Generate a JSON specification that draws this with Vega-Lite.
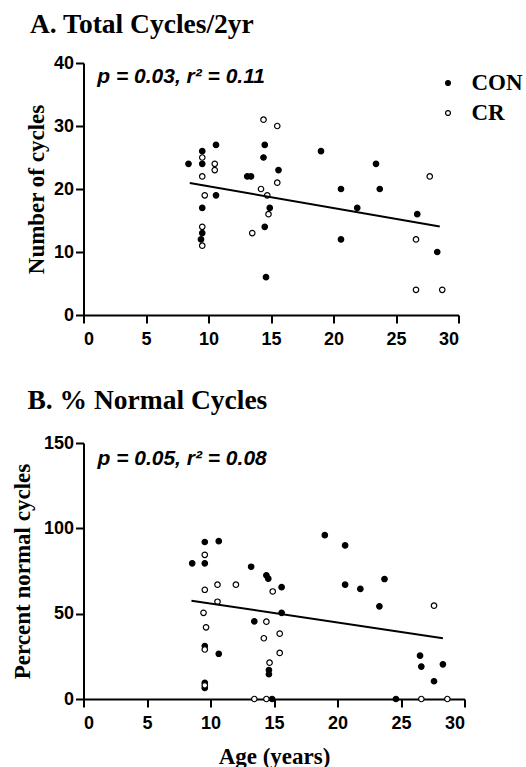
{
  "$schema": "https://vega.github.io/schema/vega-lite/v6.json",
  "background": "white",
  "padding": {"left": 10.5, "top": 10, "right": 0, "bottom": 0},
  "config": {
    "view": {"stroke": null},
    "axis": {
      "grid": false,
      "domainColor": "black",
      "domainWidth": 2,
      "tickColor": "black",
      "tickWidth": 2,
      "tickSize": 8,
      "labelFont": "Liberation Sans",
      "labelFontWeight": "bold",
      "labelFontSize": 18,
      "labelColor": "black",
      "titleFont": "Liberation Serif",
      "titleFontWeight": "bold",
      "titleFontSize": 23,
      "titleColor": "black"
    },
    "axisX": {"labelPadding": 7},
    "axisY": {"labelPadding": 2},
    "title": {"font": "Liberation Serif", "fontWeight": "bold", "fontSize": 27.5, "anchor": "start", "color": "black"},
    "concat": {"spacing": 38}
  },
  "datasets": {
    "a": [
      {"age": 8.4, "cycles": 24, "group": "CON"},
      {"age": 9.5, "cycles": 26, "group": "CON"},
      {"age": 9.5, "cycles": 24, "group": "CON"},
      {"age": 9.5, "cycles": 17, "group": "CON"},
      {"age": 9.5, "cycles": 13, "group": "CON"},
      {"age": 9.4, "cycles": 12, "group": "CON"},
      {"age": 10.6, "cycles": 27, "group": "CON"},
      {"age": 10.6, "cycles": 19, "group": "CON"},
      {"age": 13.1, "cycles": 22, "group": "CON"},
      {"age": 13.4, "cycles": 22, "group": "CON"},
      {"age": 14.5, "cycles": 27, "group": "CON"},
      {"age": 14.4, "cycles": 25, "group": "CON"},
      {"age": 14.9, "cycles": 17, "group": "CON"},
      {"age": 14.5, "cycles": 14, "group": "CON"},
      {"age": 14.6, "cycles": 6, "group": "CON"},
      {"age": 15.6, "cycles": 23, "group": "CON"},
      {"age": 19.0, "cycles": 26, "group": "CON"},
      {"age": 20.6, "cycles": 20, "group": "CON"},
      {"age": 20.6, "cycles": 12, "group": "CON"},
      {"age": 21.9, "cycles": 17, "group": "CON"},
      {"age": 23.4, "cycles": 24, "group": "CON"},
      {"age": 23.7, "cycles": 20, "group": "CON"},
      {"age": 26.7, "cycles": 16, "group": "CON"},
      {"age": 28.3, "cycles": 10, "group": "CON"},
      {"age": 9.5, "cycles": 25, "group": "CR"},
      {"age": 9.5, "cycles": 22, "group": "CR"},
      {"age": 9.7, "cycles": 19, "group": "CR"},
      {"age": 9.5, "cycles": 14, "group": "CR"},
      {"age": 9.5, "cycles": 11, "group": "CR"},
      {"age": 10.5, "cycles": 24, "group": "CR"},
      {"age": 10.5, "cycles": 23, "group": "CR"},
      {"age": 13.5, "cycles": 13, "group": "CR"},
      {"age": 14.4, "cycles": 31, "group": "CR"},
      {"age": 14.2, "cycles": 20, "group": "CR"},
      {"age": 14.7, "cycles": 19, "group": "CR"},
      {"age": 14.8, "cycles": 16, "group": "CR"},
      {"age": 15.5, "cycles": 30, "group": "CR"},
      {"age": 15.5, "cycles": 21, "group": "CR"},
      {"age": 27.7, "cycles": 22, "group": "CR"},
      {"age": 26.6, "cycles": 12, "group": "CR"},
      {"age": 26.6, "cycles": 4, "group": "CR"},
      {"age": 28.7, "cycles": 4, "group": "CR"}
    ],
    "lineA": [
      {"age": 8.5, "cycles": 20.95},
      {"age": 28.5, "cycles": 14.05}
    ],
    "b": [
      {"age": 9.55, "pct": 92, "group": "CON"},
      {"age": 10.65, "pct": 92.5, "group": "CON"},
      {"age": 8.56, "pct": 79.5, "group": "CON"},
      {"age": 9.55, "pct": 79.5, "group": "CON"},
      {"age": 9.55, "pct": 31, "group": "CON"},
      {"age": 10.65, "pct": 26.5, "group": "CON"},
      {"age": 9.55, "pct": 9.5, "group": "CON"},
      {"age": 9.55, "pct": 6.5, "group": "CON"},
      {"age": 13.2, "pct": 77.5, "group": "CON"},
      {"age": 14.4, "pct": 72.5, "group": "CON"},
      {"age": 14.55, "pct": 70.5, "group": "CON"},
      {"age": 15.6, "pct": 65.5, "group": "CON"},
      {"age": 15.6, "pct": 50.5, "group": "CON"},
      {"age": 13.45, "pct": 45.5, "group": "CON"},
      {"age": 14.6, "pct": 17, "group": "CON"},
      {"age": 14.6, "pct": 14.5, "group": "CON"},
      {"age": 14.85, "pct": 0, "group": "CON"},
      {"age": 19.0, "pct": 96, "group": "CON"},
      {"age": 20.6, "pct": 90, "group": "CON"},
      {"age": 20.6, "pct": 67, "group": "CON"},
      {"age": 21.8, "pct": 64.5, "group": "CON"},
      {"age": 23.7, "pct": 70.3, "group": "CON"},
      {"age": 23.3, "pct": 54.3, "group": "CON"},
      {"age": 26.5, "pct": 25.4, "group": "CON"},
      {"age": 26.6, "pct": 19, "group": "CON"},
      {"age": 28.3, "pct": 20.3, "group": "CON"},
      {"age": 27.6, "pct": 10.4, "group": "CON"},
      {"age": 24.6, "pct": 0, "group": "CON"},
      {"age": 9.55, "pct": 84.5, "group": "CR"},
      {"age": 9.55, "pct": 64, "group": "CR"},
      {"age": 10.55, "pct": 67, "group": "CR"},
      {"age": 12.0, "pct": 67, "group": "CR"},
      {"age": 10.55, "pct": 57, "group": "CR"},
      {"age": 9.45, "pct": 50.5, "group": "CR"},
      {"age": 9.65, "pct": 42, "group": "CR"},
      {"age": 9.55, "pct": 29, "group": "CR"},
      {"age": 9.55, "pct": 8, "group": "CR"},
      {"age": 14.9, "pct": 63, "group": "CR"},
      {"age": 14.4, "pct": 45.3, "group": "CR"},
      {"age": 14.2, "pct": 35.6, "group": "CR"},
      {"age": 15.45, "pct": 38.3, "group": "CR"},
      {"age": 15.45, "pct": 27, "group": "CR"},
      {"age": 14.65, "pct": 21.3, "group": "CR"},
      {"age": 13.45, "pct": 0, "group": "CR"},
      {"age": 14.4, "pct": 0, "group": "CR"},
      {"age": 27.6, "pct": 54.7, "group": "CR"},
      {"age": 26.6, "pct": 0, "group": "CR"},
      {"age": 28.65, "pct": 0, "group": "CR"}
    ],
    "lineB": [
      {"age": 8.5, "pct": 57.6},
      {"age": 28.3, "pct": 35.6}
    ]
  },
  "vconcat": [
    {
      "width": 375,
      "height": 252,
      "title": {"text": "A. Total Cycles/2yr", "frame": "group", "dx": -53.5, "offset": 16},
      "layer": [
        {
          "data": {"name": "a"},
          "mark": {"type": "point", "shape": "circle", "filled": true, "size": 30, "stroke": "black", "strokeWidth": 1.2, "opacity": 1},
          "encoding": {
            "x": {"field": "age", "type": "quantitative", "scale": {"domain": [0, 30], "nice": false}, "axis": {"values": [0, 5, 10, 15, 20, 25, 30], "title": null}},
            "y": {"field": "cycles", "type": "quantitative", "scale": {"domain": [0, 40], "nice": false}, "axis": {"values": [0, 10, 20, 30, 40], "title": "Number of cycles", "titlePadding": 5}},
            "fill": {
              "field": "group", "type": "nominal",
              "scale": {"domain": ["CON", "CR"], "range": ["black", "white"]},
              "legend": {
                "orient": "none", "legendX": 353, "legendY": 8.5, "title": null, "padding": 0,
                "labelFont": "Liberation Serif", "labelFontWeight": "bold", "labelFontSize": 23, "labelColor": "black",
                "symbolType": "circle", "symbolSize": 24, "symbolStrokeColor": "black", "symbolStrokeWidth": 1.2,
                "rowPadding": 6, "labelOffset": 12
              }
            }
          }
        },
        {
          "data": {"name": "lineA"},
          "mark": {"type": "line", "color": "black", "strokeWidth": 2},
          "encoding": {
            "x": {"field": "age", "type": "quantitative"},
            "y": {"field": "cycles", "type": "quantitative"}
          }
        },
        {
          "data": {"values": [{}]},
          "mark": {"type": "text", "text": "p = 0.03, r² = 0.11", "font": "Liberation Sans", "fontStyle": "italic", "fontWeight": "bold", "fontSize": 21, "align": "left", "baseline": "alphabetic", "color": "black"},
          "encoding": {
            "x": {"datum": 1.1},
            "y": {"datum": 36.8}
          }
        }
      ]
    },
    {
      "width": 381,
      "height": 256,
      "title": {"text": "B. % Normal Cycles", "frame": "group", "dx": -56, "offset": 20},
      "layer": [
        {
          "data": {"name": "b"},
          "mark": {"type": "point", "shape": "circle", "filled": true, "size": 30, "stroke": "black", "strokeWidth": 1.2, "opacity": 1},
          "encoding": {
            "x": {"field": "age", "type": "quantitative", "scale": {"domain": [0, 30], "nice": false}, "axis": {"values": [0, 5, 10, 15, 20, 25, 30], "title": "Age (years)", "titlePadding": 13}},
            "y": {"field": "pct", "type": "quantitative", "scale": {"domain": [0, 150], "nice": false}, "axis": {"values": [0, 50, 100, 150], "title": "Percent normal cycles", "titlePadding": 9}},
            "fill": {
              "field": "group", "type": "nominal",
              "scale": {"domain": ["CON", "CR"], "range": ["black", "white"]},
              "legend": null
            }
          }
        },
        {
          "data": {"name": "lineB"},
          "mark": {"type": "line", "color": "black", "strokeWidth": 2},
          "encoding": {
            "x": {"field": "age", "type": "quantitative"},
            "y": {"field": "pct", "type": "quantitative"}
          }
        },
        {
          "data": {"values": [{}]},
          "mark": {"type": "text", "text": "p = 0.05, r² = 0.08", "font": "Liberation Sans", "fontStyle": "italic", "fontWeight": "bold", "fontSize": 21, "align": "left", "baseline": "alphabetic", "color": "black"},
          "encoding": {
            "x": {"datum": 1.1},
            "y": {"datum": 137}
          }
        }
      ]
    }
  ],
  "resolve": {"scale": {"fill": "independent"}, "legend": {"fill": "independent"}}
}
